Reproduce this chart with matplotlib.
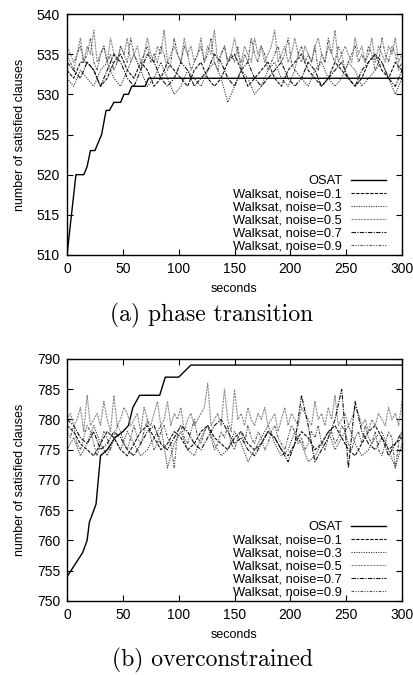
import numpy as np
import matplotlib
matplotlib.use("Agg")
import matplotlib.pyplot as plt

plt.rcParams['font.family'] = ['Liberation Sans', 'DejaVu Sans']

# ---------------- data ----------------
labels = ["OSAT", "Walksat, noise=0.1", "Walksat, noise=0.3",
          "Walksat, noise=0.5", "Walksat, noise=0.7", "Walksat, noise=0.9"]

t_slow = list(range(0, 301, 6))   # 51 samples
t_fast = list(range(0, 301, 3))   # 101 samples

# panel (a) phase transition
a_osat_t = [0, 8, 15, 18, 21, 25, 28, 31, 35, 38, 42, 48, 51, 55, 58, 70, 73, 300]
a_osat_v = [510, 520, 520, 521, 523, 523, 524, 525, 528, 528, 529, 529, 530, 530, 531, 531, 532, 532]

a01 = [533,532,534,534,533,531,532,534,535,533,
       532,534,533,531,532,534,533,532,531,533,
       534,532,531,532,534,535,533,531,532,533,
       534,532,531,533,534,535,533,532,531,532,
       534,533,532,531,532,534,535,533,532,534,
       533]
a03 = [532,531,533,532,531,533,534,532,531,533,
       535,533,531,532,534,532,530,531,533,532,
       531,533,534,532,529,531,533,532,530,531,
       533,534,532,531,533,532,531,533,534,532,
       531,532,534,533,531,532,533,534,532,530,
       532]
a07 = [534,533,532,534,533,531,533,535,534,532,
       531,533,535,534,532,531,532,534,533,531,
       532,533,535,534,532,531,533,534,532,531,
       532,533,534,532,531,532,534,533,531,532,
       533,534,532,531,533,534,535,534,532,531,
       533]
a05 = [536,535,534,535,537,534,536,535,538,534,
       535,536,534,537,535,534,536,535,537,534,
       535,536,534,535,537,535,534,536,535,538,
       534,535,536,535,534,537,535,536,534,535,
       537,534,536,535,538,534,535,536,534,535,
       537,535,534,536,535,534,537,535,536,534,
       535,536,538,534,535,536,534,535,537,535,
       534,536,535,534,536,537,535,534,536,535,
       538,534,535,536,535,534,537,535,536,534,
       535,537,534,536,535,534,536,535,537,534,
       535]
a09 = [535,534,533,535,536,534,535,537,534,533,
       535,536,534,535,533,534,536,535,534,537,
       535,534,533,535,536,534,535,534,536,535,
       533,534,537,535,534,536,535,533,534,535,
       536,534,535,537,534,533,535,536,534,535,
       534,536,533,535,534,537,535,534,536,535,
       533,534,535,536,534,535,537,534,533,535,
       536,534,535,534,536,533,535,534,537,535,
       534,536,535,533,534,535,536,534,535,534,
       536,535,533,534,537,535,534,536,535,533,
       534]

# panel (b) overconstrained
b_osat_t = [0, 14, 18, 20, 26, 30, 36, 43, 50, 55, 59, 65, 83, 88, 100, 111, 300]
b_osat_v = [754, 758, 760, 763, 766, 774, 775, 777, 778, 779, 782, 784, 784, 787, 787, 789, 789]

b01 = [779,778,776,775,774,776,778,777,775,774,
       776,778,779,777,775,776,778,777,775,776,
       778,779,777,776,775,777,778,776,775,776,
       778,777,775,774,776,778,777,775,776,778,
       779,777,775,774,776,778,779,777,775,776,
       777]
b03 = [775,777,774,776,779,776,774,777,775,778,
       776,774,775,777,779,772,776,778,775,774,
       777,779,776,774,775,778,776,773,775,777,
       779,776,774,775,778,776,773,774,776,778,
       775,777,779,776,774,775,777,778,775,772,
       776]
b07 = [780,779,777,776,778,775,776,778,777,775,
       774,776,778,779,776,775,777,779,778,776,
       775,777,779,780,778,776,777,775,774,776,
       778,777,775,773,776,784,779,773,775,777,
       780,785,772,783,778,776,775,777,774,776,
       778]
b05 = [780,781,779,780,782,778,784,779,780,781,
       779,783,780,778,784,779,780,782,781,779,
       780,781,778,782,780,779,781,783,779,780,
       783,779,781,780,782,778,780,781,779,780,
       781,782,786,779,780,781,779,785,780,778,
       785,780,781,779,782,780,779,781,780,782,
       779,780,781,778,780,782,779,781,780,779,
       782,781,780,779,783,780,781,779,782,780,
       784,779,780,781,779,780,782,781,779,780,
       778,780,779,781,780,779,782,780,781,779,
       783]
b09 = [778,777,779,776,775,777,779,778,776,774,
       776,778,777,775,777,779,778,776,775,777,
       779,777,776,778,780,777,775,776,778,779,
       777,776,772,778,779,777,776,778,780,777,
       776,778,779,777,775,776,778,777,779,776,
       775,777,778,776,779,777,776,778,777,775,
       776,778,779,777,776,775,777,779,778,776,
       777,775,776,778,777,779,776,775,777,778,
       776,777,779,778,776,775,777,778,776,779,
       777,776,778,775,774,776,778,777,772,776,
       778]

a_yticks = [510, 515, 520, 525, 530, 535, 540]
b_yticks = [750, 755, 760, 765, 770, 775, 780, 785, 790]
xticks = [0, 50, 100, 150, 200, 250, 300]
captions = ["(a) phase transition", "(b) overconstrained"]

# ---------------- styles ----------------
styles = [
    dict(color='black', lw=1.0, ls='-'),
    dict(color='#111111', lw=0.8, ls=(0, (3, 1.2))),
    dict(color='#333333', lw=0.8, ls=(0, (1, 1.2))),
    dict(color='#8a8a8a', lw=0.8, ls=(0, (2, 0.8))),
    dict(color='#111111', lw=0.8, ls=(0, (4, 1.2, 1, 1.2))),
    dict(color='#555555', lw=0.8, ls=(0, (2.5, 1.2, 1, 1.2, 1, 1.2))),
]

W, H = 414, 675
fig = plt.figure(figsize=(W / 100, H / 100), dpi=100)

def px_axes(left, top, right, bottom):
    return fig.add_axes([left / W, 1 - bottom / H, (right - left) / W, (bottom - top) / H])

panels = [
    dict(box=(67, 14, 402, 255), osat=(a_osat_t, a_osat_v),
         series=[(t_slow, a01), (t_slow, a03), (t_fast, a05), (t_slow, a07), (t_fast, a09)],
         yticks=a_yticks, cap_y=315),
    dict(box=(67, 359, 402, 601), osat=(b_osat_t, b_osat_v),
         series=[(t_slow, b01), (t_slow, b03), (t_fast, b05), (t_slow, b07), (t_fast, b09)],
         yticks=b_yticks, cap_y=660),
]

for k, p in enumerate(panels):
    ax = px_axes(*p['box'])
    lines = []
    l, = ax.plot(p['osat'][0], p['osat'][1], **styles[0])
    lines.append(l)
    for j, (tx, vy) in enumerate(p['series']):
        l, = ax.plot(tx, vy, **styles[j + 1])
        lines.append(l)
    ax.set_xlim(0, 300)
    ax.set_ylim(p['yticks'][0], p['yticks'][-1])
    ax.set_xticks(xticks)
    ax.set_yticks(p['yticks'])
    ax.tick_params(direction='in', top=True, right=True, length=4, width=0.8,
                   labelsize=10, pad=5)
    ax.tick_params(axis='x', pad=5)
    for s in ax.spines.values():
        s.set_linewidth(1.0)
    ax.set_ylabel("number of satisfied clauses", fontsize=9, labelpad=8)
    ax.set_xlabel("seconds", fontsize=9, labelpad=5)
    leg = ax.legend(lines, labels, loc='lower right', bbox_to_anchor=(0.96, 0.0),
                    frameon=False, markerfirst=False, fontsize=9.3,
                    handlelength=2.7, handletextpad=0.7, labelspacing=0.08,
                    borderaxespad=0.0, borderpad=0.2)
    fig.text(212 / W, 1 - p['cap_y'] / H, captions[k], family='cmr10',
             fontsize=17, ha='center', va='center')

fig.savefig("out.png", dpi=100)
